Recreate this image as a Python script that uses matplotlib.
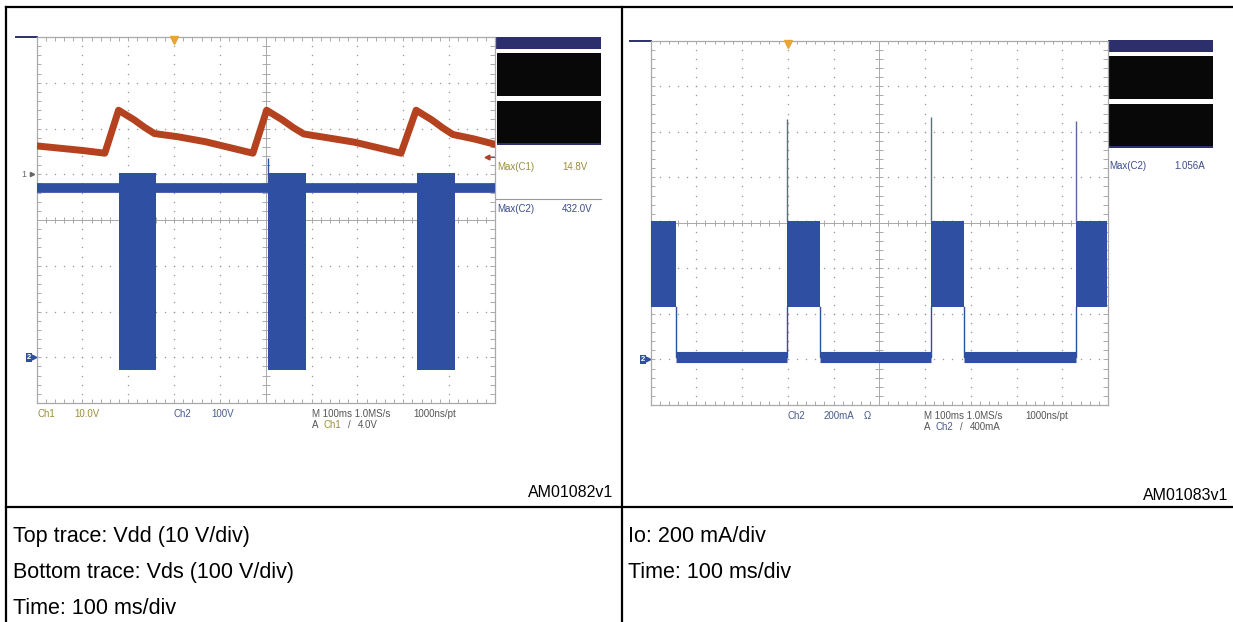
import numpy as np
import matplotlib
matplotlib.use('Agg')
import matplotlib.pyplot as plt
from matplotlib import font_manager
from matplotlib.patches import Rectangle

plt.rcParams['font.family'] = ['Liberation Sans', 'DejaVu Sans']

# nomes de fontes instaladas (a narrow pode nao existir)
fontes = {f.name for f in font_manager.fontManager.ttflist}
fonte_scope = 'Liberation Sans Narrow' if 'Liberation Sans Narrow' in fontes else 'Liberation Sans'

W, H = 1233, 622

# ---- tela esquerda (divisoes: tempo 0..10, amplitude 0..8) ----
# Ch1 = Vdd (vermelho)
vdd_t = [0.00, 0.50, 1.00, 1.49, 1.79, 1.95, 2.13, 2.35, 2.57, 3.08, 3.69, 4.72,
         5.02, 5.18, 5.36, 5.60, 5.83, 6.33, 6.94, 7.95,
         8.28, 8.44, 8.62, 8.85, 9.08, 9.55, 9.98]
vdd_v = [5.62, 5.57, 5.52, 5.46, 6.40, 6.30, 6.19, 6.03, 5.89, 5.82, 5.71, 5.46,
         6.40, 6.30, 6.19, 6.02, 5.88, 5.80, 5.70, 5.46,
         6.40, 6.30, 6.19, 6.02, 5.87, 5.77, 5.66]
# Ch2 = Vds (azul): linha de base + rajadas de chaveamento
vds_base = 4.70
vds_ini = [1.79, 5.05, 8.30]
vds_fim = [2.61, 5.87, 9.12]
vds_topo = 5.03
vds_fundo = 0.72
vds_pico_t = [5.04]
vds_pico_v = [5.35]

# ---- tela direita: Io ----
io_ini = [0.00, 2.99, 6.14, 9.29]
io_fim = [0.555, 3.70, 6.86, 9.98]
io_topo = 4.03
io_fundo = 2.15
io_baixo = 1.06
io_pico_t = [2.99, 6.14, 9.29]
io_pico_v = [6.29, 6.32, 6.23]

# textos
leit_esq = [('Max(C1)', '14.8V', '#9a8d3c'), ('Max(C2)', '432.0V', '#3d4c8c')]
leit_dir = [('Max(C2)', '1.056A', '#3d4c8c')]
legenda_esq = ['Top trace: Vdd (10 V/div)', 'Bottom trace: Vds (100 V/div)', 'Time: 100 ms/div']
legenda_dir = ['Io: 200 mA/div', 'Time: 100 ms/div']

VERM = '#b5421f'
AZUL = '#2f4fa2'
NAVY = '#2c2f6b'
OLIVA = '#9a8d3c'
AZTX = '#4a5a8e'
CINZA = '#555555'
LARANJA = '#e9a436'

fig = plt.figure(figsize=(W / 100, H / 100), dpi=100)
fundo = fig.add_axes([0, 0, 1, 1])
fundo.set_xlim(0, W)
fundo.set_ylim(H, 0)
fundo.axis('off')

# tabela
lw_tab = 1.6
fundo.plot([6, W], [7, 7], color='black', lw=lw_tab)
fundo.plot([6, 6], [7, H], color='black', lw=lw_tab)
fundo.plot([622, 622], [7, H], color='black', lw=lw_tab)
fundo.plot([6, W], [507, 507], color='black', lw=lw_tab)

for i, txt in enumerate(legenda_esq):
    fundo.text(13, 542.3 + i * 36, txt, fontsize=15.5, va='baseline', ha='left')
for i, txt in enumerate(legenda_dir):
    fundo.text(628, 542.3 + i * 35.5, txt, fontsize=15.5, va='baseline', ha='left')
fundo.text(613, 496.7, 'AM01082v1', fontsize=11.5, va='baseline', ha='right')
fundo.text(1228, 500, 'AM01083v1', fontsize=11.5, va='baseline', ha='right')


def painel_leitura(x0, y0, linhas, ytxt):
    fundo.add_patch(Rectangle((x0, y0), 105, 12, color=NAVY, lw=0))
    fundo.add_patch(Rectangle((x0 + 1, y0 + 16), 104, 43, color='#080808', lw=0))
    fundo.add_patch(Rectangle((x0 + 1, y0 + 63.5), 104, 42.5, color='#080808', lw=0))
    fundo.add_patch(Rectangle((x0 + 1, y0 + 106), 104, 2, color=NAVY, lw=0))
    for k, (nome, val, cor) in enumerate(linhas):
        y = ytxt + k * 41.7
        fundo.text(x0 + 1, y, nome, fontsize=7, color=cor, va='baseline',
                   family=fonte_scope)
        fundo.text(x0 + 66, y, val, fontsize=7, color=cor, va='baseline',
                   family=fonte_scope)
        if k > 0:
            fundo.plot([x0, x0 + 105], [y - 12.7, y - 12.7], color='#999999', lw=0.8)


painel_leitura(496, 37, leit_esq, 170)
painel_leitura(1108, 40, leit_dir, 169)

# textos do rodape das telas
def txt(x, y, s, cor):
    fundo.text(x, y, s, fontsize=7, color=cor, va='baseline', family=fonte_scope)

txt(37, 416.7, 'Ch1', OLIVA)
txt(74, 416.7, '10.0V', OLIVA)
txt(174, 416.7, 'Ch2', AZTX)
txt(211, 416.7, '100V', AZTX)
txt(312, 416.7, 'M 100ms 1.0MS/s', CINZA)
txt(413, 416.7, '1000ns/pt', CINZA)
txt(312, 427.7, 'A', CINZA)
txt(323, 427.7, 'Ch1', OLIVA)
txt(348, 427.7, '/', CINZA)
txt(358, 427.7, '4.0V', CINZA)

txt(788, 419, 'Ch2', AZTX)
txt(824, 419, '200mA', AZTX)
txt(864, 419, 'Ω', AZTX)
txt(924, 419, 'M 100ms 1.0MS/s', CINZA)
txt(1025, 419, '1000ns/pt', CINZA)
txt(924, 430, 'A', CINZA)
txt(935, 430, 'Ch2', AZTX)
txt(960, 430, '/', CINZA)
txt(970, 430, '400mA', CINZA)


def eixo_px(x0, y0, x1, y1):
    return fig.add_axes([x0 / W, 1 - y1 / H, (x1 - x0) / W, (y1 - y0) / H])


def grade(ax):
    gc = '#a9a9a9'
    ax.set_xlim(0, 10)
    ax.set_ylim(0, 8)
    ax.set_xticks([])
    ax.set_yticks([])
    ax.set_facecolor('white')
    for s in ax.spines.values():
        s.set_color(gc)
        s.set_linewidth(0.9)
    fx = np.arange(0, 10.01, 0.2)
    fy = np.arange(0, 8.01, 0.2)
    px, py = [], []
    for gx in range(1, 10):
        if gx != 5:
            px += [gx] * len(fy)
            py += list(fy)
    for gy in range(1, 8):
        if gy != 4:
            px += list(fx)
            py += [gy] * len(fx)
    ax.scatter(px, py, s=1.1, color='#9a9a9a', lw=0, zorder=1)
    ax.axhline(4, color=gc, lw=0.7, zorder=1)
    ax.axvline(5, color=gc, lw=0.7, zorder=1)
    ax.vlines(fx, 4 - 0.07, 4 + 0.07, color=gc, lw=0.7, zorder=1)
    ax.hlines(fy, 5 - 0.09, 5 + 0.09, color=gc, lw=0.7, zorder=1)
    ax.vlines(fx, 0, 0.08, color=gc, lw=0.7, zorder=1)
    ax.vlines(fx, 7.92, 8, color=gc, lw=0.7, zorder=1)
    ax.hlines(fy, 0, 0.1, color=gc, lw=0.7, zorder=1)
    ax.hlines(fy, 9.9, 10, color=gc, lw=0.7, zorder=1)
    # marcadores fora da grade
    ax.plot([-0.45, 0], [8, 8], color=NAVY, lw=1.4, clip_on=False)
    ax.plot([3.0], [7.93], marker='v', ms=6, color=LARANJA, clip_on=False, zorder=5)
    ax.text(-0.12, 1.0, '2', fontsize=5.5, color='white', ha='right', va='center',
            fontweight='bold', clip_on=False,
            bbox=dict(boxstyle='square,pad=0.15', fc=AZUL, ec='none'))
    ax.plot([-0.05], [1.0], marker='>', ms=3.5, color=AZUL, clip_on=False)


# tela esquerda
ax1 = eixo_px(36.5, 37, 495, 403)
grade(ax1)
ax1.plot(vdd_t, vdd_v, color=VERM, lw=5, solid_joinstyle='round', zorder=3)
ax1.plot([0, 10], [vds_base, vds_base], color=AZUL, lw=7, zorder=3)
for a, b in zip(vds_ini, vds_fim):
    ax1.fill_between([a, b], [vds_fundo, vds_fundo], [vds_topo, vds_topo],
                     color=AZUL, lw=0, zorder=3)
ax1.vlines(vds_pico_t, vds_base, vds_pico_v, color=AZUL, lw=1, zorder=3)
ax1.text(-0.28, 5.0, '1', fontsize=6.5, color='#666666', ha='center', va='center',
         clip_on=False)
ax1.plot([-0.1], [5.0], marker='>', ms=3, color='#666666', clip_on=False)
ax1.plot([9.83, 9.97], [5.38, 5.38], color=VERM, lw=0.8, zorder=4)
ax1.plot([9.83], [5.38], marker='<', ms=3.5, color=VERM, zorder=4)

# tela direita
ax2 = eixo_px(650.5, 40.7, 1108, 405)
grade(ax2)
for a, b in zip(io_ini, io_fim):
    ax2.fill_between([a, b], [io_fundo, io_fundo], [io_topo, io_topo],
                     color=AZUL, lw=0, zorder=3)
# nivel baixo entre rajadas, com as bordas verticais
for fim, ini in zip(io_fim[:-1], io_ini[1:]):
    ax2.plot([fim, fim, ini, ini], [io_fundo, io_baixo, io_baixo, io_fundo],
             color=AZUL, lw=1, zorder=3)
    ax2.plot([fim, ini], [io_baixo, io_baixo], color=AZUL, lw=8,
             solid_capstyle='butt', zorder=3)
ax2.vlines(io_pico_t, io_topo, io_pico_v, color='#5a6a9a', lw=1, zorder=3)

fig.savefig('out.png', dpi=100)
